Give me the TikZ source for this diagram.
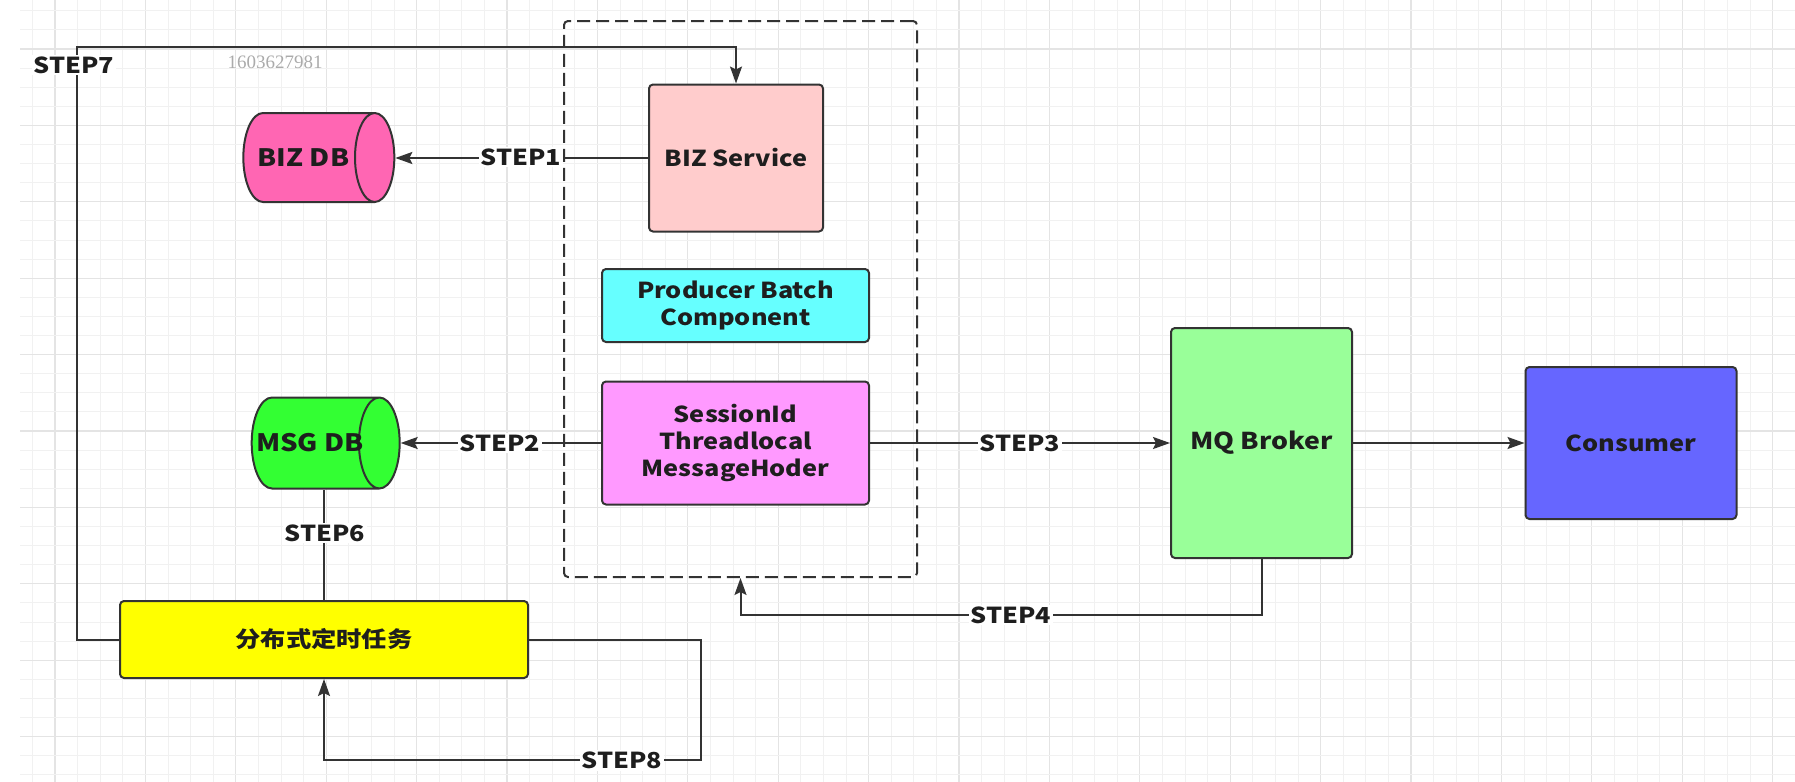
\documentclass[tikz,border=0pt]{standalone}
\usepackage{fontspec}
\setmainfont{Noto Sans CJK SC}[FakeStretch=1.15]
\newfontfamily\wmfont{Liberation Serif}
\usetikzlibrary{shapes.geometric,arrows.meta,calc}
\definecolor{ln}{HTML}{333333}
\definecolor{txt}{HTML}{1E1E1E}
\definecolor{gridminor}{HTML}{F1F1F1}
\definecolor{gridmajor}{HTML}{E4E4E4}
\definecolor{cbizdb}{HTML}{FF66B3}
\definecolor{cbizsvc}{HTML}{FFCCCC}
\definecolor{cprod}{HTML}{66FFFF}
\definecolor{csess}{HTML}{FF99FF}
\definecolor{cmsgdb}{HTML}{33FF33}
\definecolor{cmq}{HTML}{99FF99}
\definecolor{ccons}{HTML}{6666FF}
\definecolor{ctask}{HTML}{FFFF00}
\begin{document}
\begin{tikzpicture}[x=0.5pt,y=-0.5pt,
  box/.style={draw=ln, line width=1pt, rounded corners=2pt, text=txt, align=center, inner sep=0pt,
    font=\fontsize{11}{13.5}\selectfont\bfseries},
  db/.style={cylinder, draw=ln, line width=1pt, aspect=2.2, text=txt, inner sep=0pt,
    font=\bfseries},
  conn/.style={draw=ln, line width=1pt},
  arr/.style={conn, -{Stealth[length=8.5pt,width=6pt,inset=1.5pt]}},
  lbl/.style={fill=white, inner sep=1pt, text=txt, font=\fontsize{11}{13}\selectfont\bfseries}
]
\useasboundingbox (0,0) rectangle (1795,782);
\fill[white] (0,0) rectangle (1795,782);
% grid
\foreach \k in {0,...,78} {
  \pgfmathsetmacro{\xx}{32.4+22.6*\k}
  \pgfmathtruncatemacro{\m}{mod(\k+3,4)}
  \ifnum\m=0 \draw[gridmajor, line width=0.6pt] (\xx,0) -- (\xx,782);
  \else \draw[gridminor, line width=0.5pt] (\xx,0) -- (\xx,782); \fi
}
\foreach \k in {0,...,40} {
  \pgfmathsetmacro{\yy}{10.8+19.1*\k}
  \pgfmathtruncatemacro{\m}{mod(\k+2,4)}
  \ifnum\m=0 \draw[gridmajor, line width=0.6pt] (20,\yy) -- (1795,\yy);
  \else \draw[gridminor, line width=0.5pt] (20,\yy) -- (1795,\yy); \fi
}

% dashed group
\node[draw=ln, line width=1pt, dash pattern=on 6.5pt off 3pt, rounded corners=2pt,
  minimum width=176.5pt, minimum height=278pt] (group) at (740.5,299) {};

% nodes
\node[box, fill=cbizsvc, minimum width=87pt, minimum height=73.5pt] (bizsvc) at (736,158) {BIZ Service};
\node[box, fill=cprod, minimum width=133.5pt, minimum height=36.5pt] (producer) at (735.5,305.5) {Producer Batch\\Component};
\node[box, fill=csess, minimum width=133.5pt, minimum height=61.5pt] (session) at (735.5,443) {SessionId\\Threadlocal\\MessageHoder};
\node[box, fill=cmq, minimum width=90.5pt, minimum height=115pt, font=\fontsize{11.6}{14}\selectfont\bfseries] (mq) at (1261.5,443) {MQ Broker};
\node[box, fill=ccons, minimum width=105.5pt, minimum height=76pt] (consumer) at (1631,443) {Consumer};
\node[box, fill=ctask, minimum width=204pt, minimum height=38.5pt] (task) at (324,639.5) {分布式定时任务};
\node[db, fill=cbizdb, minimum height=75.5pt, minimum width=44.5pt] (bizdb) at (308.5,157.5)
  {\makebox[36pt]{\fontsize{12}{14}\selectfont BIZ DB\hspace*{5pt}}};
\node[db, fill=cmsgdb, minimum height=74pt, minimum width=45.5pt] (msgdb) at (315,443)
  {\makebox[36pt]{\fontsize{12}{14}\selectfont MSG DB\hspace*{5pt}}};

% watermark
\node[text=black!33, font=\wmfont\fontsize{9.5}{11}\selectfont] (wm) at (275,62) {1603627981};

% coordinates
\coordinate (s7) at (77,47);
\coordinate (s4) at (740.5,615);
\coordinate (s8) at (701,760);

% connectors
\draw[arr] (bizsvc.west) -- (bizsvc.west -| bizdb.east);
\node[lbl] at (521,157) {STEP1};
\draw[arr] (session.west) -- (session.west -| msgdb.east);
\node[lbl] at (500,443) {STEP2};
\draw[arr] (session.east) -- (session.east -| mq.west);
\node[lbl] at (1020,443) {STEP3};
\draw[arr] (mq.east) -- (consumer.west);
\draw[arr] (mq.south) |- (s4) -- (group.south);
\node[lbl] at (1011,615) {STEP4};
\draw[conn] (task.north) -- (task.north |- msgdb.south);
\node[lbl] at (325,533) {STEP6};
\draw[arr] (task.west) -| (s7) -| (bizsvc.north);
\node[lbl] at (74,65) {STEP7};
\draw[arr] (task.east) -| (s8) -| (task.south);
\node[lbl] at (622,760) {STEP8};
\end{tikzpicture}
\end{document}
